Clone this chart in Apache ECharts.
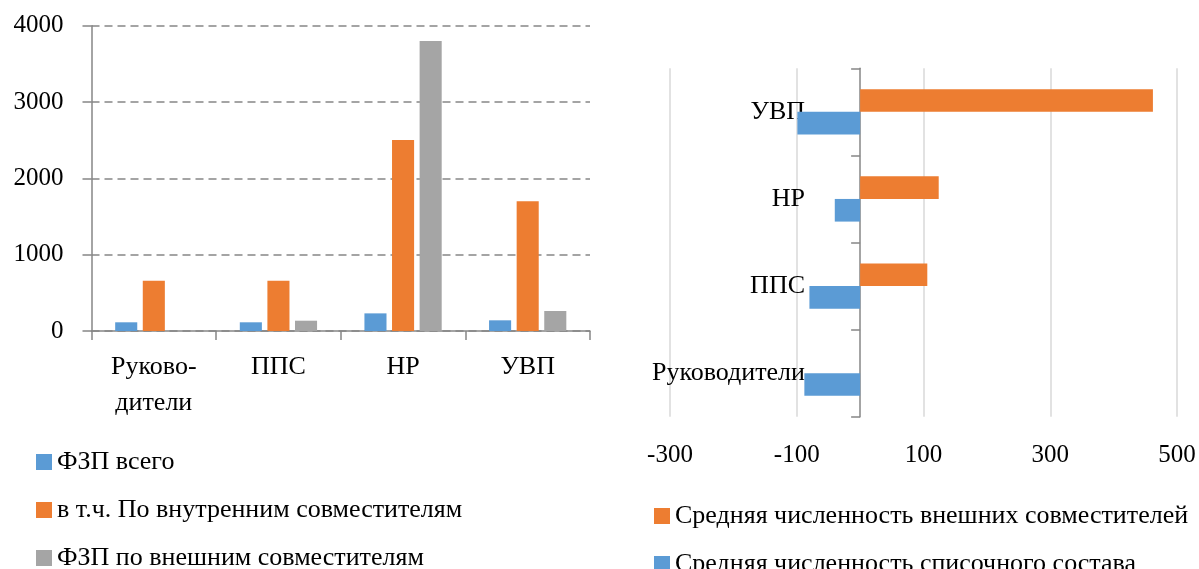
<!DOCTYPE html>
<html>
<head>
<meta charset="utf-8">
<script src="https://cdn.jsdelivr.net/npm/echarts@6/dist/echarts.min.js"></script>
<style>
  html, body { margin: 0; padding: 0; background: #fff; }
  #chart { width: 1199px; height: 569px; }
</style>
</head>
<body>
<div id="chart"></div>
<script>
// left chart: ФЗП
const leftCategories = ['Руково-\nдители', 'ППС', 'НР', 'УВП'];
const fzpTotal = [114, 114, 231, 140];
const fzpInner = [659, 659, 2502, 1699];
const fzpOuter = [0, 135, 3799, 262];
const leftTicks = [0, 1000, 2000, 3000, 4000];

// right chart: численность
const rightCategories = ['Руководители', 'ППС', 'НР', 'УВП'];
const avgOuter = [0, 106, 124, 462];
const avgList = [-88, -80, -40, -99];
const rightTicks = [-300, -100, 100, 300, 500];

const font = 'Liberation Serif';
const axisGray = '#868686';
const blue = '#5B9BD5';
const orange = '#ED7D31';
const gray = '#A5A5A5';

const myChart = echarts.init(document.getElementById('chart'));

const option = {
  animation: false,
  textStyle: { fontFamily: font },
  grid: [
    { left: 91.5, right: 609, top: 25.7, bottom: 238 },
    { left: 670, right: 22, top: 68.3, bottom: 152.3 },
  ],
  legend: [
    {
      orient: 'vertical',
      left: 31,
      top: 444,
      height: 200,
      itemWidth: 16,
      itemHeight: 16,
      itemGap: 22,
      icon: 'rect',
      data: ['ФЗП всего', 'в т.ч. По внутренним совместителям', 'ФЗП по внешним совместителям'],
      textStyle: { fontFamily: font, fontSize: 26, color: '#000' },
    },
    {
      orient: 'vertical',
      left: 649,
      top: 498,
      height: 150,
      itemWidth: 16,
      itemHeight: 16,
      itemGap: 22,
      icon: 'rect',
      data: ['Средняя численность внешних совместителей', 'Средняя численность списочного состава'],
      textStyle: { fontFamily: font, fontSize: 26, color: '#000' },
    },
  ],
  xAxis: [
    {
      gridIndex: 0,
      type: 'category',
      data: leftCategories,
      axisLine: { lineStyle: { color: axisGray, width: 1.5 } },
      axisTick: { show: true, length: 9, lineStyle: { color: axisGray, width: 1.5 } },
      axisLabel: {
        color: '#000',
        fontSize: 26,
        fontFamily: font,
        lineHeight: 36,
        margin: 18,
        interval: 0,
      },
    },
    {
      gridIndex: 1,
      type: 'value',
      min: rightTicks[0],
      max: rightTicks[rightTicks.length - 1],
      interval: 200,
      axisLine: { show: false },
      axisTick: { show: false },
      splitLine: { lineStyle: { color: '#D9D9D9', width: 1.5 } },
      axisLabel: { color: '#000', fontSize: 25, fontFamily: font, margin: 26 },
    },
  ],
  yAxis: [
    {
      gridIndex: 0,
      type: 'value',
      min: leftTicks[0],
      max: leftTicks[leftTicks.length - 1],
      interval: 1000,
      axisLine: { show: true, lineStyle: { color: axisGray, width: 1.5 } },
      axisTick: { show: true, length: 9, lineStyle: { color: axisGray, width: 1.5 } },
      splitLine: { lineStyle: { color: axisGray, width: 1.5, type: [8, 5] } },
      axisLabel: {
        color: '#000',
        fontSize: 25,
        fontFamily: font,
        margin: 28,
        formatter: (v) => String(v),
      },
    },
    {
      gridIndex: 1,
      type: 'category',
      data: rightCategories,
      axisLine: { onZero: true, lineStyle: { color: axisGray, width: 1.5 } },
      axisTick: { show: true, length: 9, lineStyle: { color: axisGray, width: 1.5 } },
      // labels stay at grid left, so push them right toward the zero line
      axisLabel: { color: '#000', fontSize: 26, fontFamily: font, margin: -135, interval: 0 },
    },
  ],
  series: [
    {
      name: 'ФЗП всего',
      type: 'bar',
      xAxisIndex: 0,
      yAxisIndex: 0,
      data: fzpTotal,
      itemStyle: { color: blue },
      barGap: '25%',
      barCategoryGap: '38%',
    },
    {
      name: 'в т.ч. По внутренним совместителям',
      type: 'bar',
      xAxisIndex: 0,
      yAxisIndex: 0,
      data: fzpInner,
      itemStyle: { color: orange },
    },
    {
      name: 'ФЗП по внешним совместителям',
      type: 'bar',
      xAxisIndex: 0,
      yAxisIndex: 0,
      data: fzpOuter,
      itemStyle: { color: gray },
    },
    {
      name: 'Средняя численность внешних совместителей',
      type: 'bar',
      xAxisIndex: 1,
      yAxisIndex: 1,
      data: avgOuter,
      itemStyle: { color: orange },
      barGap: '0%',
      barCategoryGap: '48%',
    },
    {
      name: 'Средняя численность списочного состава',
      type: 'bar',
      xAxisIndex: 1,
      yAxisIndex: 1,
      data: avgList,
      itemStyle: { color: blue },
    },
  ],
};

myChart.setOption(option);
</script>
</body>
</html>
